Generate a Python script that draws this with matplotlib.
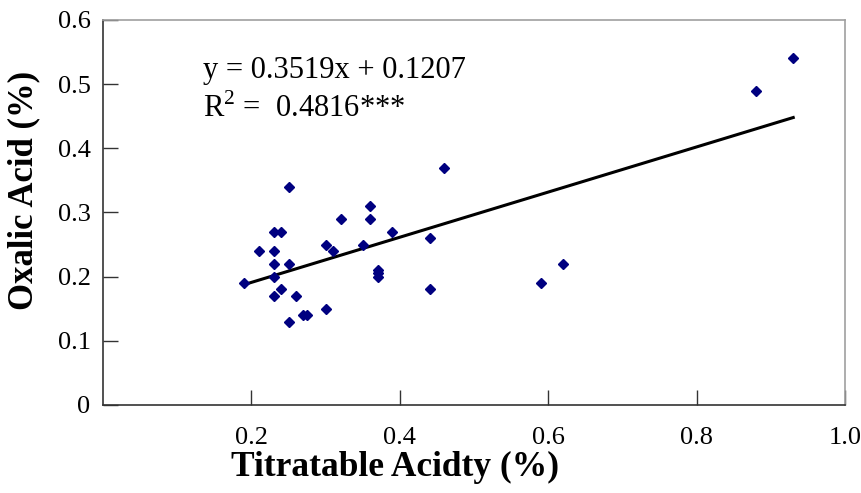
import matplotlib
matplotlib.use('Agg')

import matplotlib.pyplot as plt

# data
titratable = [0.19, 0.21, 0.23, 0.24, 0.25, 0.23, 0.23, 0.25, 0.23, 0.24, 0.23,
              0.26, 0.27, 0.275, 0.25, 0.30, 0.30, 0.31, 0.32, 0.35, 0.36, 0.36,
              0.37, 0.37, 0.37, 0.39, 0.44, 0.44, 0.46, 0.59, 0.62, 0.88, 0.93]
oxalic = [0.19, 0.24, 0.27, 0.27, 0.34, 0.24, 0.22, 0.22, 0.20, 0.18, 0.17,
          0.17, 0.14, 0.14, 0.13, 0.25, 0.15, 0.24, 0.29, 0.25, 0.31, 0.29,
          0.21, 0.205, 0.20, 0.27, 0.26, 0.18, 0.37, 0.19, 0.22, 0.49, 0.54]
slope = 0.3519
intercept = 0.1207
x_ticks = [0.2, 0.4, 0.6, 0.8, 1.0]
y_ticks = [0, 0.1, 0.2, 0.3, 0.4, 0.5, 0.6]

plt.rcParams['font.family'] = ['Liberation Serif', 'DejaVu Serif']
plt.rcParams['mathtext.fontset'] = 'custom'
plt.rcParams['mathtext.rm'] = 'Liberation Serif'


def main():
    fig = plt.figure(figsize=(8.62, 4.93), dpi=100)
    ax = fig.add_axes([0.1195, 0.1785, 0.861, 0.781])

    ax.plot(titratable, oxalic, linestyle='none', marker='D', markersize=5.5,
            color='#000080', zorder=3)

    # trend line between the smallest and largest x
    x0, x1 = min(titratable), max(titratable)
    ax.plot([x0, x1], [slope * x0 + intercept, slope * x1 + intercept],
            color='black', linewidth=2.2, zorder=2)

    ax.text(0.135, 0.509, 'y = 0.3519x + 0.1207', fontsize=22)
    ax.text(0.135, 0.449, r'R$^{2}$ =  0.4816***', fontsize=22)

    ax.set_xlim(0, 1.0)
    ax.set_ylim(0, 0.6)
    ax.set_xticks(x_ticks)
    ax.set_xticklabels(['%.1f' % v for v in x_ticks])
    ax.set_yticks(y_ticks)
    ax.set_yticklabels(['0'] + ['%.1f' % v for v in y_ticks[1:]])
    ax.tick_params(direction='in', length=11, width=1, labelsize=19,
                   color='#333333')
    ax.tick_params(axis='x', pad=16)
    ax.tick_params(axis='y', pad=9)

    for side in ['left', 'bottom']:
        ax.spines[side].set_color('#333333')
    for side in ['top', 'right']:
        ax.spines[side].set_color('#a0a0a0')
    for sp in ax.spines.values():
        sp.set_linewidth(1.2)

    ax.set_xlabel('Titratable Acidty (%)', fontsize=25.5, fontweight='bold')
    ax.set_ylabel('Oxalic Acid (%)', fontsize=25, fontweight='bold')
    ax.xaxis.set_label_coords(0.394, -0.12)
    ax.yaxis.set_label_coords(-0.084, 0.558)

    fig.savefig('out.png', dpi=100)


main()
